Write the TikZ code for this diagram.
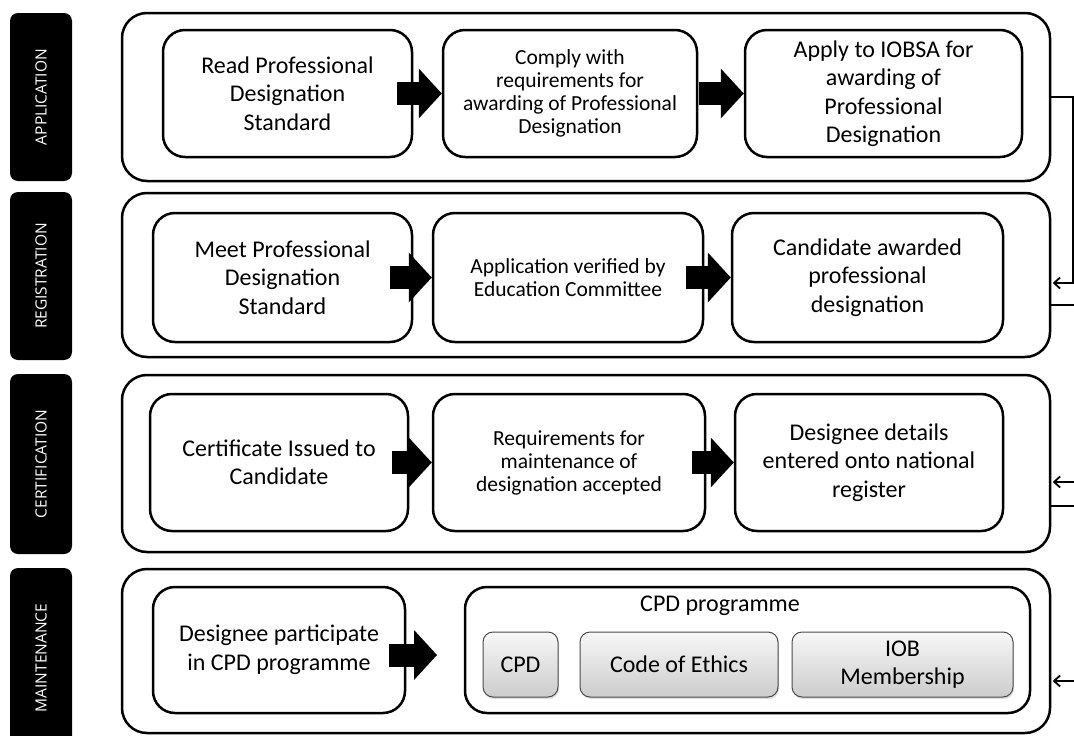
\documentclass[tikz,border=0pt]{standalone}
\usepackage{fontspec}
\setmainfont{Carlito}
\newfontfamily\lblfont{Open Sans}
\usetikzlibrary{arrows.meta,shadows}
\newcommand\bigtxt{\fontsize{24}{28.5}\selectfont}
\newcommand\smalltxt{\fontsize{21.5}{23}\selectfont}
\newcommand\lbltxt{\lblfont\fontsize{15.5}{18}\selectfont}
\begin{document}
\begin{tikzpicture}[x=1pt,y=-1pt,
  lbl/.style={fill=black, rounded corners=8pt, text=white, rotate=90, font=\lbltxt, minimum height=62pt, inner sep=0pt},
  outer/.style={draw=black, line width=2.5pt, rounded corners=25pt, fill=white},
  stepbox/.style={draw=black, line width=2.5pt, rounded corners=22pt, fill=white, align=center, inner sep=2pt},
  big/.style={font=\bigtxt},
  small/.style={font=\smalltxt},
  gbox/.style={draw=gray!60!black, line width=1pt, rounded corners=10pt, top color=gray!6, bottom color=gray!40, align=center, font=\bigtxt, minimum height=65pt, drop shadow={shadow xshift=1pt, shadow yshift=-2pt, opacity=0.25}},
  blockarrow/.style={line width=23pt, -{Triangle[length=23pt,width=50pt,line width=0pt]}},
  conn/.style={line width=1.8pt, draw=black},
  tip/.style={-{Straight Barb[length=6pt,width=11pt]}, shorten >=1.5pt}
]
\useasboundingbox (0,0) rectangle (1074,736);

% side labels
\node[lbl, minimum width=168pt] (LA) at (41,97) {APPLICATION};
\node[lbl, minimum width=168pt] (LR) at (41,276) {REGISTRATION};
\node[lbl, minimum width=180pt] (LC) at (41,464) {CERTIFICATION};
\node[lbl, minimum width=180pt] (LM) at (41,658) {MAINTENANCE};

% outer stage boxes
\node[outer, minimum width=928pt, minimum height=168pt] (OA) at (586,97) {};
\node[outer, minimum width=928pt, minimum height=164pt] (OR) at (586,275) {};
\node[outer, minimum width=928pt, minimum height=177pt] (OC) at (586,463.5) {};
\node[outer, minimum width=928pt, minimum height=164pt] (OM) at (586,651) {};

% application row
\node[stepbox, big, minimum width=249pt, minimum height=127pt] (a1) at (287.5,93.5) {Read Professional\\Designation\\Standard};
\node[stepbox, small, minimum width=254pt, minimum height=127pt] (a2) at (570,93.5) {Comply with\\requirements for\\awarding of Professional\\Designation};
\node[stepbox, big, minimum width=277pt, minimum height=127pt] (a3) at (883.5,93.5) {Apply to IOBSA for\\awarding of\\Professional\\Designation};

% registration row
\node[stepbox, big, minimum width=259pt, minimum height=129pt] (r1) at (282.5,277.5) {Meet Professional\\Designation\\Standard};
\node[stepbox, small, minimum width=270pt, minimum height=129pt] (r2) at (568,277.5) {Application verified by\\Education Committee};
\node[stepbox, big, minimum width=271pt, minimum height=129pt] (r3) at (867.5,277.5) {Candidate awarded\\professional\\designation};

% certification row
\node[stepbox, big, minimum width=258pt, minimum height=137pt] (c1) at (279,462.5) {Certificate Issued to\\Candidate};
\node[stepbox, small, minimum width=272pt, minimum height=137pt] (c2) at (569,462.5) {Requirements for\\maintenance of\\designation accepted};
\node[stepbox, big, minimum width=268pt, minimum height=137pt] (c3) at (869,462.5) {Designee details\\entered onto national\\register};

% maintenance row
\node[stepbox, big, minimum width=252pt, minimum height=126pt] (m1) at (279,650) {Designee participate\\in CPD programme};
\node[stepbox, minimum width=565pt, minimum height=126pt] (cpd) at (747.5,650) {};
\node[big] (cpdt) at (720,606) {CPD programme};
\node[gbox, minimum width=75pt] (g1) at (520.5,664.5) {CPD};
\node[gbox, minimum width=198pt] (g2) at (679,664.5) {Code of Ethics};
\node[gbox, minimum width=221pt, inner sep=1pt] (g3) at (902.5,664.5) {\fontsize{24}{27}\selectfont IOB\\Membership};

% block arrows
\draw[blockarrow] ([xshift=-45pt]a2.west) -- (a2.west);
\draw[blockarrow] ([xshift=-45pt]a3.west) -- (a3.west);
\draw[blockarrow] ([xshift=-42pt]r2.west) -- (r2.west);
\draw[blockarrow] ([xshift=-45pt]r3.west) -- (r3.west);
\draw[blockarrow] ([xshift=-40pt]c2.west) -- (c2.west);
\draw[blockarrow] ([xshift=-42pt]c3.west) -- (c3.west);
\coordinate (mtip) at (437,655);
\coordinate (mstart) at (389,655);
\draw[blockarrow] (mstart) -- (mtip);

% right-side connectors
\coordinate (jA) at (1074,97);
\coordinate (jR1) at (1073,283);
\coordinate (jR2) at (1074,305);
\coordinate (jC1) at (1074,482);
\coordinate (jC2) at (1074,506);
\coordinate (jM1) at (1074,681);
\draw[conn] (OA.east) -- (jA);
\draw[conn, tip] (jA -| jR1) -- (jR1) -- (jR1 -| OR.east);
\draw[conn] (jR2 -| OR.east) -- (jR2);
\draw[conn, tip] (jC1) -- (jC1 -| OC.east);
\draw[conn] (jC2 -| OC.east) -- (jC2);
\draw[conn, tip] (jM1) -- (jM1 -| OM.east);
\end{tikzpicture}
\end{document}
